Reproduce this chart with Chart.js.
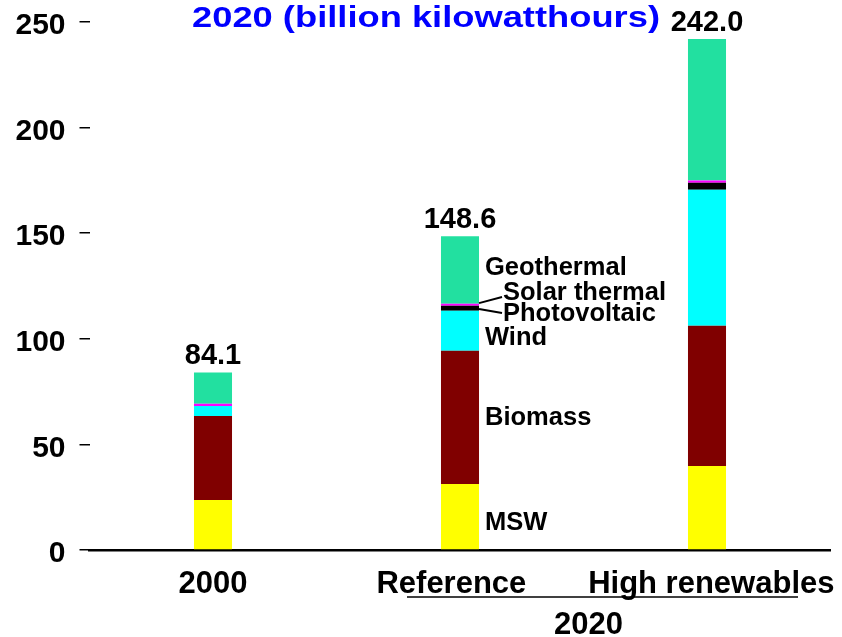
<!DOCTYPE html>
<html><head><meta charset="utf-8">
<script src="https://cdn.jsdelivr.net/npm/chart.js@4/dist/chart.umd.min.js"></script>
<style>html,body{margin:0;padding:0;background:#fff}#wrap{width:842px;height:637px}</style>
</head><body><div id="wrap"><canvas id="c" width="842" height="637"></canvas></div>
<script>
// ---- data ----
const categories = ['2000', 'Reference', 'High renewables'];
const groupLabel = '2020';
const titleText = '2020 (billion kilowatthours)';
const seriesNames = ['MSW', 'Biomass', 'Wind', 'Photovoltaic', 'Solar thermal', 'Geothermal'];
const msw = [23.7, 31.3, 39.8];
const biomass = [39.8, 63.0, 66.4];
const wind = [4.7, 19.0, 64.4];
const photovoltaic = [0.0, 2.3, 3.3];
const solarThermal = [1.1, 1.0, 1.0];
const geothermal = [14.8, 32.0, 67.1];
const totalLabels = ['84.1', '148.6', '242.0'];
const yTicks = [0, 50, 100, 150, 200, 250];
// series label anchors (data units) beside the Reference bar
const labelAnchors = [13.0, 62.5, 100.4, 111.7, 121.7, 133.5];

// ---- styles ----
const colors = ['#FFFF00', '#800000', '#00FFFF', '#000000', '#FF00FF', '#22E0A0'];
const FONT = 'Liberation Sans, Arial, sans-serif';
const seriesValues = [msw, biomass, wind, photovoltaic, solarThermal, geothermal];

const overlay = {
  id: 'overlay',
  afterDraw(chart) {
    const ctx = chart.ctx;
    const xs = chart.scales.x, ys = chart.scales.y;
    ctx.save();
    ctx.fillStyle = '#000';
    // totals above bars
    ctx.font = 'bold 29px ' + FONT;
    ctx.textAlign = 'center';
    ctx.textBaseline = 'middle';
    const topMeta = chart.getDatasetMeta(seriesValues.length - 1);
    totalLabels.forEach((t, i) => {
      const el = topMeta.data[i];
      ctx.fillText(t, el.x, el.y - 16);
    });
    // series labels beside Reference bar
    const refEl = topMeta.data[1];
    const right = refEl.x + refEl.width / 2;
    ctx.font = 'bold 25.5px ' + FONT;
    ctx.textAlign = 'left';
    seriesNames.forEach((name, k) => {
      const isSmall = (k === 3 || k === 4);
      const x = isSmall ? right + 24 : right + 6;
      ctx.fillText(name, x, ys.getPixelForValue(labelAnchors[k]));
    });
    // leader lines
    ctx.strokeStyle = '#000';
    ctx.lineWidth = 2;
    ctx.beginPath();
    ctx.moveTo(right, ys.getPixelForValue(116.9));
    ctx.lineTo(right + 23, ys.getPixelForValue(119.8));
    ctx.moveTo(right, ys.getPixelForValue(114.1));
    ctx.lineTo(right + 23, ys.getPixelForValue(112.2));
    ctx.stroke();
    // group bracket + label
    const x1 = xs.getPixelForValue(1), x2 = xs.getPixelForValue(2);
    ctx.lineWidth = 1.5;
    ctx.beginPath();
    ctx.moveTo(x1 - 53, 597);
    ctx.lineTo(x2 + 91, 597);
    ctx.stroke();
    ctx.font = 'bold 31px ' + FONT;
    ctx.textAlign = 'center';
    ctx.fillText(groupLabel, (x1 + x2) / 2 + 5, 625);
    // title (stretched horizontally)
    ctx.fillStyle = '#0000FF';
    ctx.font = 'bold 30px ' + FONT;
    ctx.translate(426, 19);
    ctx.scale(1.21, 1);
    ctx.fillText(titleText, 0, 0);
    ctx.restore();
  }
};

new Chart(document.getElementById('c'), {
  type: 'bar',
  data: {
    labels: categories,
    datasets: seriesValues.map((vals, k) => ({
      label: seriesNames[k],
      data: vals,
      backgroundColor: colors[k],
      borderWidth: 0,
      categoryPercentage: 1,
      barPercentage: 0.154
    }))
  },
  options: {
    responsive: false,
    animation: false,
    devicePixelRatio: 1,
    layout: { padding: { top: 22, right: 11.5, left: 0, bottom: 0 } },
    plugins: { legend: { display: false }, title: { display: false }, tooltip: { enabled: false } },
    scales: {
      x: {
        stacked: true,
        grid: { display: false, drawTicks: false },
        border: { display: true, color: '#000', width: 2.5 },
        ticks: {
          font: { family: FONT, size: 31, weight: 'bold' }, color: '#000', padding: 16, maxRotation: 0, autoSkip: false,
          callback: (v, i) => i === 1 ? categories[i] + '  ' : (i === 2 ? ' ' + categories[i] : categories[i])
        },
        afterFit: s => { s.height = 87; s.paddingLeft = 0; s.paddingRight = 0; }
      },
      y: {
        stacked: true,
        min: 0, max: 250,
        afterBuildTicks: s => { s.ticks = yTicks.map(v => ({ value: v })); },
        grid: { display: true, drawOnChartArea: false, drawTicks: true, tickLength: 10, color: '#000', lineWidth: 1.5 },
        border: { display: false },
        ticks: { font: { family: FONT, size: 30, weight: 'bold' }, color: '#000', padding: 14, labelOffset: 4 },
        afterFit: s => { s.width = 89.5; s.paddingTop = 0; s.paddingBottom = 0; }
      }
    }
  },
  plugins: [overlay]
});
</script>
</body></html>
